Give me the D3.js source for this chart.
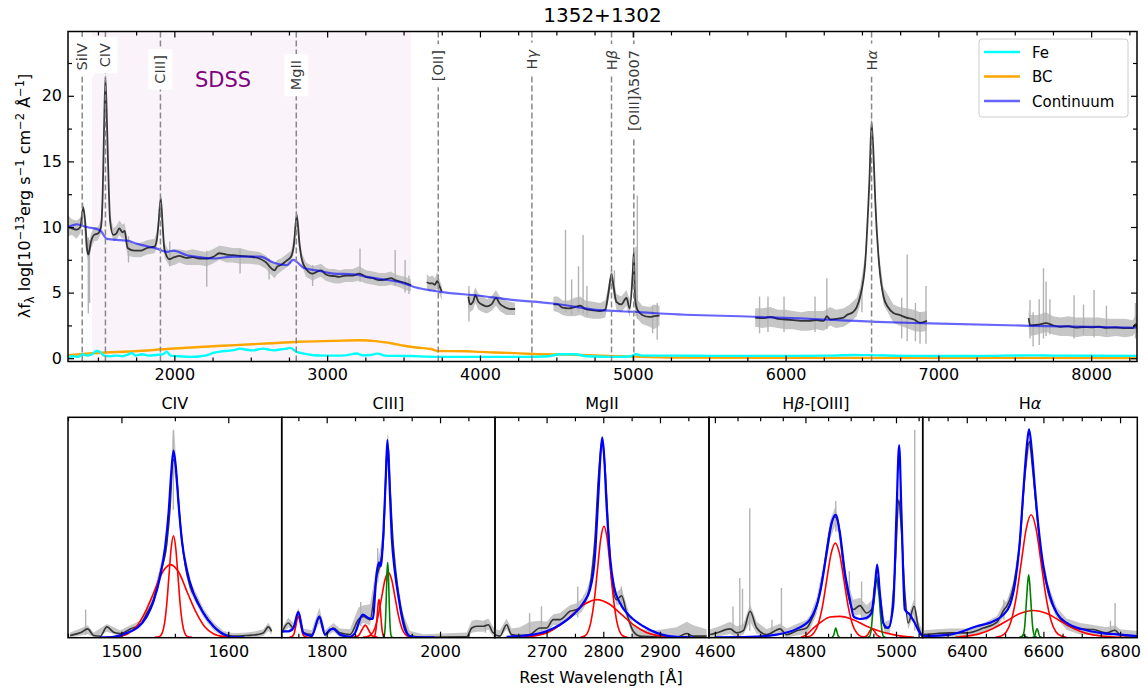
<!DOCTYPE html>
<html>
<head>
<meta charset="utf-8">
<script src="https://cdn.jsdelivr.net/npm/d3@7"></script>
<style>
  body { margin: 0; background: #fff; }
  svg text { font-family: "DejaVu Sans", sans-serif; }
</style>
</head>
<body>
<script>
// ---------------- top panel data (rest wavelength [A], flux) ----------------
const sdssRange = [1461, 3549];
const lineNames = ['SiIV', 'CIV', 'CIII]', 'MgII', '[OII]', 'Hγ', 'Hβ', '[OIII]λ5007', 'Hα'];
const lineWaves = [1397, 1549, 1909, 2798, 3727, 4340, 4861, 5007, 6563];
const xTicksTop = [2000, 3000, 4000, 5000, 6000, 7000, 8000];
const yTicksTop = [0, 5, 10, 15, 20];

// smoothed spectrum, one array per observed chunk
const blackSDSS = [[1304,10.0],[1330,9.9],[1360,9.8],[1385,10.0],[1404,11.5],[1418,10.2],[1428,8.4],[1437,7.9],[1455,8.9],[1475,9.4],[1500,9.5],[1520,10.0],[1531,12.5],[1540,17.5],[1549,21.4],[1560,17.5],[1572,12.5],[1580,10.4],[1600,9.4],[1620,9.5],[1640,9.9],[1660,9.6],[1675,9.7],[1694,8.4],[1737,8.2],[1780,8.2],[1820,8.4],[1870,8.5],[1885,9.0],[1896,10.2],[1911,12.2],[1924,10.0],[1935,8.3],[1968,7.55],[2000,7.7],[2033,7.8],[2077,7.65],[2120,7.7],[2164,7.6],[2210,7.6],[2251,7.7],[2295,8.0],[2340,7.9],[2382,7.85],[2430,7.8],[2491,7.75],[2556,7.6],[2600,7.3],[2630,6.9],[2655,6.7],[2675,7.0],[2698,7.1],[2731,7.4],[2764,7.75],[2782,8.6],[2801,10.9],[2820,8.6],[2835,7.5],[2862,6.8],[2905,6.45],[2935,6.6],[2960,6.7],[2990,6.4],[3014,6.3],[3050,6.25],[3080,6.2],[3120,6.3],[3167,6.3],[3210,6.45],[3254,6.2],[3300,6.1],[3341,5.95],[3380,6.0],[3418,6.1],[3445,5.95],[3472,5.85],[3510,5.75],[3549,5.57]];
const blackOII = [[3652,5.8],[3670,5.7],[3690,5.7],[3705,5.6],[3720,5.9],[3735,5.5],[3750,5.1]];
const blackHd = [[3924,4.7],[3935,4.1],[3955,4.3],[3970,4.8],[3990,4.3],[4020,4.05],[4045,3.95],[4075,4.1],[4105,4.6],[4130,4.15],[4170,3.85],[4200,3.75],[4230,3.75]];
const blackHb = [[4481,4.1],[4510,4.1],[4540,3.85],[4580,3.8],[4620,3.9],[4656,4.0],[4690,3.75],[4740,3.65],[4786,3.6],[4820,3.7],[4840,4.9],[4861,6.4],[4875,5.4],[4893,4.3],[4925,4.1],[4959,4.6],[4980,3.8],[5000,6.5],[5007,8.1],[5015,4.5],[5030,3.7],[5062,3.3],[5110,3.15],[5140,3.2],[5175,3.25]];
const blackHa = [[5801,3.1],[5850,3.05],[5900,3.15],[5950,3.0],[6000,2.95],[6050,2.9],[6100,2.85],[6150,2.85],[6200,2.9],[6250,2.85],[6270,3.2],[6292,2.95],[6330,3.0],[6380,3.1],[6401,3.3],[6440,3.5],[6466,3.9],[6488,4.7],[6521,7.2],[6543,12.0],[6549,13.6],[6563,18.0],[6582,13.6],[6587,12.0],[6612,7.2],[6641,4.7],[6670,3.9],[6706,3.45],[6745,3.3],[6790,3.1],[6840,2.95],[6880,2.7],[6925,2.85]];
const blackIR = [[7591,3.05],[7600,2.5],[7650,2.55],[7705,2.67],[7750,2.5],[7800,2.4],[7850,2.45],[7900,2.34],[7950,2.38],[8000,2.36],[8050,2.4],[8100,2.32],[8164,2.34],[8220,2.3],[8273,2.29],[8290,2.6],[8300,2.5]];

// raw spectrum noise envelope [wave, low, high]
const graySDSS = [[1304,9.3,10.9],[1330,9.4,10.6],[1360,9.1,10.5],[1385,9.5,10.7],[1404,10.8,11.9],[1420,8.3,10.2],[1437,7.3,8.6],[1455,8.4,9.5],[1475,8.9,10.0],[1500,9.0,10.0],[1520,9.5,10.6],[1531,11.9,13.2],[1540,16.9,18.3],[1549,20.7,22.2],[1560,16.9,18.2],[1572,11.9,13.1],[1580,10.0,11.0],[1600,8.9,9.9],[1620,9.0,10.1],[1640,9.4,10.5],[1660,9.1,10.2],[1675,9.1,10.3],[1694,7.8,9.0],[1737,7.7,8.7],[1780,7.7,8.8],[1820,7.9,9.0],[1870,8.0,9.1],[1885,8.4,9.6],[1896,9.7,10.8],[1911,11.6,12.8],[1924,9.4,10.6],[1935,7.7,8.8],[1968,7.0,8.1],[2000,7.1,8.3],[2033,7.3,8.3],[2077,7.1,8.2],[2120,7.1,8.3],[2164,7.1,8.2],[2210,7.0,8.1],[2251,7.2,8.3],[2295,7.5,8.6],[2340,7.3,8.5],[2382,7.3,8.4],[2430,7.2,8.4],[2491,7.2,8.2],[2556,7.1,8.1],[2600,6.8,7.8],[2630,6.4,7.4],[2655,6.1,7.2],[2675,6.4,7.5],[2698,6.6,7.6],[2731,6.9,7.9],[2764,7.2,8.2],[2782,8.1,9.2],[2801,10.3,11.5],[2820,8.1,9.1],[2835,7.0,8.0],[2862,6.2,7.3],[2905,5.9,7.0],[2935,6.1,7.1],[2960,6.2,7.2],[2990,5.9,6.9],[3014,5.8,6.8],[3050,5.7,6.8],[3080,5.7,6.7],[3120,5.8,6.8],[3167,5.8,6.8],[3210,5.9,7.0],[3254,5.7,6.7],[3300,5.6,6.6],[3341,5.5,6.5],[3380,5.5,6.5],[3418,5.6,6.6],[3445,5.5,6.4],[3472,5.4,6.3],[3510,5.2,6.2],[3549,5.1,6.0]];
const grayOII = [[3652,5.3,6.4],[3670,5.1,6.2],[3690,5.2,6.3],[3705,5.1,6.1],[3720,5.3,6.6],[3735,4.9,6.0],[3750,4.4,5.5]];
const grayHd = [[3924,4.0,5.3],[3935,3.5,4.9],[3955,3.7,4.9],[3970,4.2,5.4],[3990,3.7,4.9],[4020,3.5,4.7],[4045,3.4,4.5],[4075,3.6,4.7],[4105,4.0,5.2],[4130,3.6,4.7],[4170,3.3,4.4],[4200,3.3,4.3],[4230,3.3,4.2]];
const grayHb = [[4481,3.6,4.7],[4510,3.5,4.7],[4540,3.3,4.4],[4580,3.2,4.4],[4620,3.2,4.6],[4656,3.3,4.7],[4690,3.1,4.4],[4740,3.0,4.3],[4786,3.0,4.2],[4820,3.1,4.4],[4840,4.3,5.5],[4861,5.8,7.0],[4875,4.8,6.0],[4893,3.7,4.9],[4925,3.5,4.7],[4959,4.0,5.2],[4980,3.1,4.5],[5000,5.7,7.3],[5007,7.4,8.8],[5015,3.8,5.2],[5030,3.0,4.5],[5062,2.6,4.0],[5110,2.4,3.9],[5140,2.2,4.1],[5175,2.5,4.0]];
const grayHa = [[5801,2.4,3.8],[5850,2.3,3.8],[5900,2.4,3.9],[5950,2.3,3.7],[6000,2.2,3.7],[6050,2.2,3.6],[6100,2.1,3.5],[6150,2.1,3.6],[6200,2.2,3.6],[6250,2.1,3.6],[6292,2.5,3.9],[6330,2.3,3.7],[6380,2.4,3.8],[6420,2.7,4.1],[6466,3.2,4.6],[6488,4.1,5.4],[6521,6.6,7.9],[6543,11.4,12.7],[6549,13.1,14.3],[6563,17.4,18.8],[6582,13.1,14.3],[6587,11.4,12.7],[6612,6.6,7.9],[6641,4.1,5.4],[6706,2.7,4.1],[6745,2.5,3.9],[6790,2.3,3.8],[6840,2.1,3.7],[6880,2.0,3.5],[6925,2.1,3.6]];
const grayIR = [[7591,2.3,3.7],[7600,1.7,3.3],[7650,1.8,3.3],[7705,2.0,3.5],[7750,1.8,3.2],[7800,1.7,3.1],[7850,1.7,3.2],[7900,1.6,3.1],[7950,1.7,3.1],[8000,1.7,3.1],[8050,1.7,3.1],[8100,1.6,3.0],[8164,1.7,3.0],[8220,1.6,3.0],[8273,1.7,2.9],[8290,2.0,3.3],[8300,1.9,3.2]];
// single noisy pixels sticking out of the envelope [wave, low, high]
const spikesTop = [[1437,3.4,9.2],[1445,4.2,9.0],[1700,7.3,9.3],[1970,7.0,8.9],[2212,5.45,8.2],[2430,6.46,8.3],[2620,6.0,7.6],[2905,5.5,7.1],[3215,5.8,8.37],[3445,5.5,8.24],[3510,5.0,7.48],[3535,4.9,6.3],[3928,2.8,5.5],[4560,3.5,9.8],[4600,3.3,6.0],[4645,3.5,7.0],[4675,3.4,9.4],[4700,3.2,5.5],[4880,4.5,6.7],[5022,3.2,8.5],[5030,3.0,12.4],[5130,1.9,4.0],[5160,1.4,4.2],[5830,1.9,4.7],[5885,2.0,4.7],[5990,2.0,4.7],[6193,2.0,4.7],[6270,2.2,6.1],[6500,3.5,5.9],[6760,1.5,4.6],[6796,1.3,7.9],[6850,1.3,4.2],[6880,1.1,3.5],[6919,1.1,5.5],[7600,1.5,4.43],[7620,0.9,3.5],[7660,1.0,4.5],[7688,1.5,6.85],[7705,1.7,5.85],[7730,1.8,4.5],[7888,1.5,4.8],[7950,1.8,4.1],[8019,1.6,5.2],[8100,1.8,4.0],[8290,1.5,4.2]];

const continuum = [[1304,10.0],[1361,10.2],[1427,10.0],[1514,9.75],[1558,9.1],[1645,9.0],[1700,8.95],[1721,8.85],[1797,8.6],[1885,8.35],[1950,8.1],[1993,8.2],[2081,7.85],[2168,7.7],[2255,7.6],[2386,7.75],[2480,7.75],[2561,7.75],[2648,7.3],[2736,7.1],[2779,7.5],[2844,6.9],[2954,6.65],[3041,6.45],[3172,6.4],[3259,6.2],[3368,6.0],[3477,5.8],[3564,5.45],[3739,5.06],[4000,4.76],[4174,4.5],[4481,4.17],[4786,3.66],[5004,3.54],[5178,3.41],[5789,3.16],[6095,3.03],[6401,2.87],[6598,2.77],[6947,2.65],[7601,2.47],[8255,2.34],[8300,2.33]];
const balmerCont = [[1304,0.23],[1500,0.4],[1738,0.53],[1950,0.7],[2164,0.86],[2400,1.0],[2600,1.12],[2819,1.25],[3037,1.32],[3210,1.37],[3319,1.3],[3428,1.12],[3505,0.95],[3600,0.8],[3680,0.7],[3720,0.55],[3913,0.53],[4000,0.48],[4174,0.41],[4349,0.32],[4655,0.25],[4786,0.19],[5000,0.12],[5222,0.06],[6000,0.03],[8300,0.02]];
const feII = [[1304,0.1],[1340,0.15],[1370,0.1],[1400,0.3],[1425,0.2],[1455,0.25],[1492,0.56],[1514,0.48],[1540,0.2],[1580,0.15],[1620,0.2],[1660,0.15],[1700,0.3],[1721,0.4],[1745,0.2],[1790,0.3],[1830,0.2],[1880,0.25],[1925,0.3],[1950,0.5],[1975,0.2],[2030,0.15],[2100,0.1],[2170,0.15],[2230,0.3],[2255,0.41],[2300,0.5],[2342,0.56],[2390,0.62],[2430,0.73],[2470,0.65],[2517,0.6],[2550,0.68],[2582,0.73],[2620,0.65],[2648,0.6],[2700,0.68],[2736,0.73],[2757,0.79],[2801,0.48],[2844,0.36],[2910,0.23],[2980,0.2],[3050,0.2],[3120,0.22],[3194,0.36],[3230,0.22],[3280,0.25],[3330,0.35],[3380,0.2],[3450,0.18],[3550,0.17],[3650,0.12],[3800,0.1],[4000,0.1],[4300,0.1],[4450,0.15],[4520,0.3],[4620,0.3],[4700,0.15],[4900,0.1],[4990,0.15],[5020,0.3],[5060,0.2],[5200,0.2],[5600,0.18],[6000,0.18],[6300,0.2],[6450,0.25],[6600,0.22],[6800,0.18],[7200,0.17],[7650,0.22],[7750,0.2],[8300,0.18]];

// ---------------- line-fit panels (continuum subtracted, arbitrary units) ----------------
const panelTitles = ['CIV', 'CIII]', 'MgII', 'Hβ-[OIII]', 'Hα'];
const panelRanges = [[1450, 1650], [1720.6, 2097], [2609, 2986.5], [4587, 5059], [6285, 6845]];
const panelTicks = [[1500, 1600], [1800, 2000], [2700, 2800, 2900], [4600, 4800, 5000], [6400, 6600, 6800]];

const civGray = [[1452,0,0.22],[1461.5,0.08,0.4],[1468.4,0.15,0.55],[1474,0,0.22],[1486.4,0.25,0.6],[1498.9,0.05,0.32],[1508.3,0.22,0.55],[1517.6,0.42,0.75],[1523.8,0.85,1.3],[1530,1.45,1.95],[1536.3,2.65,3.25],[1542.5,3.95,4.65],[1545.6,5.55,6.5],[1548.1,7.6,9.3],[1549.4,7.5,9.43],[1551.9,6.6,7.5],[1555,4.8,5.5],[1559.6,3.05,3.55],[1564.3,2.05,2.55],[1570.6,1.45,1.95],[1576.8,0.9,1.3],[1586.1,0.32,0.68],[1595.5,0,0.28],[1604.8,0,0.18],[1617.3,0,0.22],[1626.6,0,0.28],[1632.9,0.06,0.36],[1637.5,0.28,0.66],[1640.6,0.12,0.42]];
const civSpikes = [[1466.5,0.1,1.26],[1548.6,5.8,9.43]];
const civBlack = [[1452,0.08],[1455.3,0.12],[1461.5,0.2],[1468.4,0.38],[1474,0.08],[1480.2,0.05],[1486.4,0.47],[1492.7,0.23],[1498.9,0.17],[1508.3,0.38],[1517.6,0.57],[1523.8,1.1],[1530,1.71],[1536.3,2.92],[1542.5,4.28],[1545.6,5.95],[1548.1,8.06],[1549.4,8.06],[1551.9,7.16],[1555,5.19],[1559.6,3.3],[1564.3,2.31],[1570.6,1.71],[1576.8,1.1],[1586.1,0.5],[1595.5,0.12],[1604.8,0.05],[1617.3,0.08],[1626.6,0.12],[1632.9,0.2],[1637.5,0.47],[1640.6,0.27]];
const civBroad = [[1486,0],[1496,0.03],[1506,0.16],[1514,0.48],[1522,1.12],[1530,2.0],[1538,2.92],[1546,3.3],[1554,2.92],[1562,2.0],[1570,1.12],[1578,0.48],[1586,0.16],[1596,0.03],[1606,0]];
const civNarrow = [[1531,0],[1535.7,0.04],[1538.2,0.2],[1540.3,0.62],[1542.4,1.49],[1544.5,2.8],[1546.6,4.07],[1548.7,4.61],[1550.8,4.07],[1552.9,2.8],[1555,1.49],[1557.1,0.62],[1559.2,0.2],[1561.7,0.04],[1566,0]];
const civTotal = [[1480,0],[1489.6,0],[1505.1,0.2],[1514.5,0.42],[1523.8,0.95],[1530,1.63],[1536.3,2.77],[1541,4.13],[1544.1,5.64],[1546.6,7.46],[1548.7,8.49],[1550.9,7.76],[1553.4,6.1],[1556.5,4.43],[1561.2,3.07],[1567.4,2.01],[1576.8,1.1],[1586.1,0.5],[1598.6,0.08],[1604.8,0],[1615,0]];

const ciiiGray = [[1720.6,0.08,0.42],[1732.4,0.45,0.9],[1741.2,0.25,0.65],[1750,0.85,1.35],[1758.8,0,0.4],[1773.5,0,0.32],[1787.1,0.65,1.35],[1797.1,0,0.32],[1811.8,0.25,0.65],[1823.5,0,0.4],[1841.2,0,0.36],[1855.9,0.55,1.35],[1864.7,0.65,1.45],[1876.5,0.55,1.5],[1888.2,2.35,3.3],[1894.1,2.95,3.95],[1900,4.05,4.9],[1905.9,7.7,8.7],[1907.1,8.1,9.27],[1908.8,8.3,9.1],[1911.8,6.4,7.3],[1917.6,3.75,4.5],[1926.5,1.75,2.35],[1935.3,0.55,1.05],[1947.1,0,0.28],[1970.6,0,0.14],[2047.1,0,0.22],[2055.9,0.2,0.75],[2064.7,0.25,0.8],[2076.5,0.25,0.75],[2085.3,0.35,0.85],[2094.1,0.02,0.45],[2097,0.02,0.45]];
const ciiiSpikes = [[1890,2.5,4.05],[1860,0.5,1.6],[2080,0.2,0.75]];
const ciiiBlack = [[1720.6,0.2],[1732.4,0.65],[1741.2,0.42],[1750,1.1],[1758.8,0.2],[1773.5,0.12],[1787.1,0.88],[1797.1,0.12],[1811.8,0.42],[1823.5,0.2],[1841.2,0.12],[1855.9,0.8],[1864.7,0.95],[1876.5,0.8],[1888.2,2.77],[1894.1,3.3],[1900,4.43],[1905.9,8.21],[1908.8,8.67],[1911.8,6.85],[1917.6,4.13],[1926.5,2.01],[1935.3,0.8],[1947.1,0.05],[1970.6,0],[2047.1,0.02],[2055.9,0.42],[2064.7,0.5],[2076.5,0.5],[2085.3,0.57],[2094.1,0.2],[2097,0.2]];
const ciiiRed1 = [[1734,0],[1738,0.02],[1742,0.13],[1746,0.58],[1748,0.84],[1750,0.95],[1752,0.84],[1754,0.58],[1758,0.13],[1762,0.02],[1766,0]];
const ciiiRed2 = [[1846,0],[1850,0.02],[1856,0.07],[1862,0.33],[1868,0.55],[1874,0.33],[1880,0.07],[1886,0.02],[1890,0]];
const ciiiRed3 = [[1881,0],[1884.3,0.05],[1886.3,0.23],[1887.8,0.56],[1889.3,1.04],[1890.8,1.51],[1892.3,1.71],[1893.8,1.51],[1895.3,1.04],[1896.8,0.56],[1898.3,0.23],[1900.3,0.05],[1903,0]];
const ciiiBroad = [[1864,0],[1870.8,0.02],[1878.8,0.13],[1884.8,0.4],[1890.8,0.96],[1896.8,1.79],[1902.8,2.6],[1908.8,2.95],[1914.8,2.6],[1920.8,1.79],[1926.8,0.96],[1932.8,0.4],[1938.8,0.13],[1946.8,0.02],[1954,0]];
const ciiiGreen = [[1899,0],[1901,0.03],[1903.2,0.46],[1904.3,1.1],[1905.4,2.06],[1906.5,3.0],[1907.6,3.4],[1908.7,3.0],[1909.8,2.06],[1910.9,1.1],[1912,0.46],[1914.2,0.03],[1916,0]];
const ciiiTotal = [[1720.6,0.27],[1732.4,0.27],[1741.2,0.42],[1750,1.15],[1758.8,0.2],[1773.5,0.05],[1787.1,0.95],[1797.1,0.12],[1805.9,0.35],[1811.8,0.38],[1823.5,0.12],[1841.2,0.02],[1850,0.2],[1863.5,1.03],[1873.5,0.88],[1881.2,0.83],[1888.2,2.92],[1892.3,3.4],[1895.3,3.22],[1900,4.73],[1904.1,7.16],[1907.1,8.97],[1910.6,7.16],[1914.7,4.58],[1920.6,2.92],[1926.5,1.86],[1932.4,0.95],[1938.2,0.35],[1947.1,0.05],[1958.8,0],[1990,0]];

const mgiiGray = [[2608.8,0,0.36],[2617.6,0,0.32],[2629.4,0.35,0.85],[2638.2,0,0.4],[2652.9,0,0.45],[2670.6,0,0.7],[2688.2,0.15,0.75],[2700,0.2,0.7],[2711.8,0.55,1.05],[2723.5,0.55,1.1],[2741.2,0.95,1.45],[2752.9,1.0,1.55],[2761.8,1.15,1.75],[2770.6,1.55,2.15],[2776.5,2.05,2.65],[2785.3,4.15,4.75],[2791.2,6.85,7.55],[2798.2,8.65,9.2],[2802.9,7.45,8.15],[2808.8,4.75,5.35],[2814.7,2.35,2.95],[2823.5,1.45,2.05],[2832.4,1.55,2.25],[2841.2,0.85,1.45],[2852.9,0,0.55],[2864.7,0,0.36],[2894.1,0,0.32],[2929.4,0,0.45],[2947.1,0,0.7],[2958.8,0,0.55],[2982.4,0,0.36]];
const mgiiSpikes = [[2755,0.9,2.31],[2691,0.1,1.41],[2670,0,1.1],[2832,1.4,2.31]];
const mgiiBlack = [[2608.8,0.12],[2617.6,0.05],[2629.4,0.57],[2638.2,0.12],[2652.9,0.08],[2670.6,0.12],[2688.2,0.42],[2700,0.42],[2711.8,0.8],[2723.5,0.8],[2741.2,1.18],[2752.9,1.26],[2761.8,1.41],[2770.6,1.79],[2776.5,2.31],[2785.3,4.43],[2791.2,7.16],[2798.2,8.97],[2802.9,7.76],[2808.8,5.04],[2814.7,2.62],[2823.5,1.71],[2832.4,1.89],[2841.2,1.1],[2852.9,0.27],[2864.7,0.05],[2894.1,0.02],[2929.4,0],[2947.1,0.17],[2958.8,0.05],[2982.4,0.05]];
const mgiiBroad = [[2630,0],[2654,0.01],[2681.5,0.075],[2703,0.23],[2724.5,0.56],[2746,1.04],[2767.5,1.51],[2789,1.71],[2810.5,1.51],[2832,1.04],[2853.5,0.56],[2875,0.23],[2896.5,0.075],[2924,0.01],[2950,0]];
const mgiiNarrow = [[2760,0],[2768,0.07],[2778,0.68],[2784,1.64],[2789.7,3.06],[2795.4,4.45],[2801.2,5.04],[2807,4.45],[2812.7,3.06],[2818.5,1.64],[2824.2,0.68],[2834.2,0.07],[2842,0]];
const mgiiTotal = [[2629.4,0.02],[2647.1,0.05],[2676.5,0.12],[2700,0.27],[2723.5,0.57],[2747.1,1.03],[2764.7,1.56],[2776.5,2.16],[2785.3,3.68],[2791.2,6.4],[2795.3,8.37],[2798.2,9.09],[2801.2,8.37],[2805.9,5.95],[2811.8,3.68],[2818.8,2.31],[2829.4,1.56],[2847.1,0.95],[2870.6,0.5],[2894.1,0.2],[2929.4,0.02],[2960,0]];

const hbGray = [[4589.5,0,0.36],[4604.2,0.02,0.45],[4633.6,0.15,0.7],[4648.3,0,0.5],[4663,0.12,0.6],[4677.7,0.7,1.5],[4692.4,0.15,0.7],[4714.5,0,0.36],[4743.9,0.12,0.62],[4758.6,0,0.4],[4780.6,0.08,0.6],[4802.7,0.15,0.8],[4810,0.35,1.0],[4824.7,1.05,1.8],[4839.4,2.55,3.3],[4854.1,4.45,5.3],[4865.1,5.05,5.9],[4872.5,4.75,5.5],[4883.5,2.95,3.8],[4890.9,1.95,2.7],[4905.6,0.95,1.7],[4920.3,1.05,1.8],[4935,0.75,1.45],[4949.7,1.05,1.75],[4957,2.25,2.95],[4964.4,1.55,2.25],[4975.4,0.12,0.7],[4986.4,0.15,0.8],[4997.4,2.55,3.3],[5006.3,5.85,6.7],[5012.1,4.45,5.2],[5019.5,1.65,2.35],[5026.8,0.35,0.95],[5040.1,1.05,1.75],[5048.9,0.15,0.8],[5058.5,0,0.28]];
const hbSpikes = [[4640,0.1,1.4],[4655,0.2,2.69],[4661,0.2,2.2],[4677,0.3,5.87],[4726,0.1,0.8],[4747,0.1,2.24],[4867,4.8,6.2],[4897,1.5,3.0],[4924,0.9,2.54],[5041.5,0.3,9.43]];
const hbBlack = [[4589.5,0.12],[4604.2,0.2],[4633.6,0.38],[4648.3,0.2],[4663,0.3],[4677.7,1.18],[4692.4,0.42],[4714.5,0.12],[4743.9,0.38],[4758.6,0.12],[4780.6,0.3],[4802.7,0.42],[4810,0.65],[4824.7,1.41],[4839.4,2.92],[4854.1,4.88],[4865.1,5.48],[4872.5,5.19],[4883.5,3.37],[4890.9,2.31],[4905.6,1.26],[4920.3,1.44],[4935,1.1],[4949.7,1.41],[4957,2.62],[4964.4,1.86],[4975.4,0.42],[4986.4,0.5],[4997.4,2.92],[5006.3,6.25],[5012.1,4.88],[5019.5,2.01],[5026.8,0.65],[5040.1,1.41],[5048.9,0.5],[5058.5,0.05]];
const hbBroad = [[4798,0],[4808,0.03],[4818.5,0.19],[4828,0.58],[4837.5,1.39],[4847,2.6],[4856.5,3.78],[4866,4.28],[4875.5,3.78],[4885,2.6],[4894.5,1.39],[4904,0.58],[4913.5,0.19],[4924,0.03],[4934,0]];
const hbVeryBroad = [[4790,0],[4802.7,0.12],[4817,0.4],[4832,0.65],[4854,0.92],[4876,0.95],[4905.6,0.8],[4935,0.5],[4964.4,0.27],[4993.8,0.12],[5022,0.03],[5040,0]];
const hbWing = [[4930,0],[4937,0.1],[4942,0.28],[4947,0.38],[4952,0.28],[4958,0.1],[4966,0]];
const hbNarrow = [[4859,0],[4862.5,0.1],[4865,0.3],[4867,0.42],[4869,0.3],[4871.5,0.1],[4875,0]];
const oiii4959 = [[4937,0],[4941,0.02],[4945,0.3],[4948.5,1.1],[4952.5,2.2],[4957,2.77],[4961.5,2.2],[4965.5,1.1],[4969,0.3],[4973,0.02],[4977,0]];
const hbTotal = [[4600,0],[4677.7,0.02],[4736.5,0.12],[4780.6,0.38],[4810,0.8],[4832.1,2.01],[4846.8,3.83],[4857.8,5.19],[4866.6,5.57],[4876.2,4.73],[4887.2,2.92],[4898.2,1.71],[4907,0.92],[4920.3,0.83],[4935,0.88],[4946,1.1],[4953.3,2.31],[4958.5,3.3],[4964.4,2.01],[4971.7,0.65],[4982.7,0.42],[4993.8,1.41],[5001.1,5.64],[5007,8.74],[5012.1,5.64],[5019.5,1.26],[5030.5,1.03],[5041.5,0.65],[5052.6,0.2],[5058.5,0.05]];

const haGray = [[6287,0,0.32],[6321.7,0,0.36],[6356.5,0.02,0.4],[6400,0.02,0.4],[6443.5,0.2,0.65],[6478.3,0.45,0.95],[6497.4,0.95,1.6],[6504.3,1.15,1.65],[6521.7,2.05,2.55],[6539.1,4.15,4.75],[6552.2,7.15,7.75],[6563.5,8.65,9.15],[6571.3,7.45,8.05],[6582.6,5.35,5.95],[6595.7,3.25,3.85],[6613,1.75,2.35],[6634.8,0.85,1.35],[6660.9,0.33,0.85],[6695.7,0.13,0.65],[6730.4,0.12,0.56],[6765.2,0,0.45],[6787,0.12,0.55],[6800,0,0.36],[6845,0,0.28]];
const haSpikes = [[6497,0.8,1.71],[6775,0.1,0.75],[6787,0.1,1.56]];
const haBlack = [[6287,0.12],[6321.7,0.17],[6356.5,0.2],[6400,0.2],[6443.5,0.42],[6478.3,0.68],[6497.4,1.26],[6504.3,1.41],[6521.7,2.31],[6539.1,4.43],[6552.2,7.46],[6563.5,8.9],[6571.3,7.76],[6582.6,5.64],[6595.7,3.53],[6613,2.01],[6634.8,1.1],[6660.9,0.57],[6695.7,0.38],[6730.4,0.35],[6765.2,0.2],[6787,0.32],[6800,0.12],[6845,0.05]];
const haBroad = [[6475,0],[6488,0.05],[6503,0.24],[6516,0.75],[6529,1.81],[6542,3.38],[6555,4.92],[6568,5.57],[6581,4.92],[6594,3.38],[6607,1.81],[6620,0.75],[6633,0.24],[6648,0.05],[6660,0]];
const haVeryBroad = [[6370,0],[6399,0.05],[6434,0.165],[6469,0.4],[6504,0.74],[6539,1.08],[6574,1.22],[6609,1.08],[6644,0.74],[6679,0.4],[6714,0.165],[6749,0.054],[6790,0.01],[6820,0]];
const haNarrow = [[6540,0],[6545,0.03],[6550.5,0.38],[6556,1.72],[6558.8,2.45],[6561.5,2.84],[6564.3,2.45],[6567,1.72],[6572.5,0.38],[6578,0.03],[6583,0]];
const nii6548 = [[6537,0],[6541,0.01],[6545,0.06],[6548,0.12],[6551,0.06],[6555,0.01],[6559,0]];
const nii6583 = [[6571,0],[6575,0.01],[6578.5,0.12],[6581,0.3],[6583.5,0.38],[6586,0.3],[6588.5,0.12],[6592,0.01],[6596,0]];
const haTotal = [[6287,0.05],[6356.5,0.12],[6426.1,0.5],[6469.6,0.73],[6495.7,1.03],[6513,1.48],[6526.1,2.47],[6537.4,4.13],[6547.8,6.7],[6556.5,8.67],[6562.6,9.46],[6569.6,8.52],[6578.3,6.7],[6587,5.04],[6600,3.22],[6617.4,1.86],[6634.8,1.1],[6660.9,0.65],[6704.3,0.35],[6747.8,0.2],[6800,0.12],[6845,0.05]];

// ---------------- drawing ----------------
const W = 1148, H = 691;
const FONT = '"DejaVu Sans", sans-serif';
const GRAY = '#c6c6c6';
const SPIKE = '#b3b3b3';

const svg = d3.select('body').append('svg').attr('width', W).attr('height', H);
svg.append('rect').attr('width', W).attr('height', H).attr('fill', '#fff');
const defs = svg.append('defs');

function clipFor(id, x0, y0, x1, y1) {
  defs.append('clipPath').attr('id', id).append('rect')
    .attr('x', x0).attr('y', y0).attr('width', x1 - x0).attr('height', y1 - y0);
  return `url(#${id})`;
}

const bandGen = (xs, ys) => d3.area().x(d => xs(d[0])).y0(d => ys(d[1])).y1(d => ys(d[2]));
const lineGen = (xs, ys) => d3.line().x(d => xs(d[0])).y(d => ys(d[1])).curve(d3.curveMonotoneX);

// text with italic greek letters (mathtext style)
function richText(t, str) {
  str.split(/([αβγ])/).filter(s => s.length).forEach(s => {
    const sp = t.append('tspan').text(s);
    if (/[αβγ]/.test(s)) sp.attr('font-style', 'italic');
  });
}

// inward ticks, no domain line
function ticks(g, gen, scale, values, size, labels, pad, fs) {
  const a = gen(scale).tickValues(values).tickSize(-size).tickPadding(pad)
    .tickFormat(labels ? d3.format('d') : () => '');
  g.call(a).attr('font-family', FONT).attr('font-size', fs);
  g.select('.domain').remove();
  g.selectAll('.tick line').attr('stroke', '#000').attr('stroke-width', 1.2);
  g.selectAll('.tick text').attr('fill', '#000');
}

// ===== top panel =====
const T = { l: 68, r: 1137, t: 31.5, b: 361.5 };
const x = d3.scaleLinear().domain([1304, 8300]).range([T.l, T.r]);
const y = d3.scaleLinear().domain([-0.25, 24.9]).range([T.b, T.t]);
const plot = svg.append('g').attr('clip-path', clipFor('clipTop', T.l, T.t, T.r, T.b));

plot.append('rect')
  .attr('x', x(sdssRange[0])).attr('y', T.t)
  .attr('width', x(sdssRange[1]) - x(sdssRange[0])).attr('height', T.b - T.t)
  .attr('fill', 'purple').attr('fill-opacity', 0.045);

[graySDSS, grayOII, grayHd, grayHb, grayHa, grayIR].forEach(seg => {
  plot.append('path').attr('d', bandGen(x, y)(seg)).attr('fill', GRAY);
});
plot.selectAll('line.spk').data(spikesTop).join('line').attr('class', 'spk')
  .attr('x1', d => x(d[0])).attr('x2', d => x(d[0]))
  .attr('y1', d => y(d[1])).attr('y2', d => y(d[2]))
  .attr('stroke', SPIKE).attr('stroke-width', 1.4);

[blackSDSS, blackOII, blackHd, blackHb, blackHa, blackIR].forEach(seg => {
  plot.append('path').attr('d', lineGen(x, y)(seg)).attr('fill', 'none')
    .attr('stroke', '#1a1a1a').attr('stroke-opacity', 0.85).attr('stroke-width', 1.8);
});
plot.append('path').attr('d', lineGen(x, y)(balmerCont)).attr('fill', 'none')
  .attr('stroke', '#ffa500').attr('stroke-width', 2.4);
plot.append('path').attr('d', lineGen(x, y)(feII)).attr('fill', 'none')
  .attr('stroke', '#00ffff').attr('stroke-width', 2.4);
plot.append('path').attr('d', lineGen(x, y)(continuum)).attr('fill', 'none')
  .attr('stroke', 'blue').attr('stroke-opacity', 0.6).attr('stroke-width', 2.2);

// line markers
plot.selectAll('line.mark').data(lineWaves).join('line').attr('class', 'mark')
  .attr('x1', d => x(d)).attr('x2', d => x(d)).attr('y1', T.t).attr('y2', T.b)
  .attr('stroke', '#888').attr('stroke-width', 1.5).attr('stroke-dasharray', '6,3');

const labelTop = [43, 43, 55, 60, 50, 50, 50, 50, 50];
lineWaves.forEach((w, i) => {
  const g = plot.append('g').attr('transform', `translate(${x(w)},${labelTop[i]}) rotate(-90)`);
  const t = g.append('text').attr('text-anchor', 'end').attr('dominant-baseline', 'central')
    .attr('font-size', 14.5).attr('fill', '#3a3a3a');
  richText(t, lineNames[i]);
  const bb = t.node().getBBox();
  g.insert('rect', 'text').attr('x', bb.x - 6).attr('y', bb.y - 4)
    .attr('width', bb.width + 12).attr('height', bb.height + 8).attr('fill', '#fff');
});

svg.append('text').attr('x', 223).attr('y', 87).attr('text-anchor', 'middle')
  .attr('font-size', 21).attr('fill', 'purple').text('SDSS');

// legend
const legNames = ['Fe', 'BC', 'Continuum'];
const legColors = ['#00ffff', '#ffa500', '#6666ff'];
const leg = svg.append('g');
leg.append('rect').attr('x', 979).attr('y', 39).attr('width', 149).attr('height', 78).attr('rx', 3)
  .attr('fill', '#fff').attr('fill-opacity', 0.85).attr('stroke', '#ccc');
legNames.forEach((n, i) => {
  const yy = 52 + i * 24.5;
  leg.append('line').attr('x1', 984).attr('x2', 1020).attr('y1', yy).attr('y2', yy)
    .attr('stroke', legColors[i]).attr('stroke-width', 2.5);
  leg.append('text').attr('x', 1032).attr('y', yy + 5.5).attr('font-size', 15).text(n);
});

// axes
const minorX = d3.range(1500, 8300, 250).filter(v => v % 1000);
const minorY = [2.5, 7.5, 12.5, 17.5, 22.5];
ticks(svg.append('g').attr('transform', `translate(0,${T.b})`), d3.axisBottom, x, xTicksTop, 6, true, 7.5, 16);
ticks(svg.append('g').attr('transform', `translate(0,${T.b})`), d3.axisBottom, x, minorX, 4, false, 0, 16);
ticks(svg.append('g').attr('transform', `translate(0,${T.t})`), d3.axisTop, x, xTicksTop, 6, false, 0, 16);
ticks(svg.append('g').attr('transform', `translate(0,${T.t})`), d3.axisTop, x, minorX, 4, false, 0, 16);
ticks(svg.append('g').attr('transform', `translate(${T.l},0)`), d3.axisLeft, y, yTicksTop, 6, true, 6, 16);
ticks(svg.append('g').attr('transform', `translate(${T.l},0)`), d3.axisLeft, y, minorY, 4, false, 0, 16);
ticks(svg.append('g').attr('transform', `translate(${T.r},0)`), d3.axisRight, y, yTicksTop, 6, false, 0, 16);
ticks(svg.append('g').attr('transform', `translate(${T.r},0)`), d3.axisRight, y, minorY, 4, false, 0, 16);
svg.append('rect').attr('x', T.l).attr('y', T.t).attr('width', T.r - T.l).attr('height', T.b - T.t)
  .attr('fill', 'none').attr('stroke', '#000').attr('stroke-width', 1.5);

svg.append('text').attr('x', (T.l + T.r) / 2).attr('y', 22).attr('text-anchor', 'middle')
  .attr('font-size', 20).text('1352+1302');

// y label with sub/superscripts
const yl = svg.append('text').attr('transform', 'translate(30,196) rotate(-90)')
  .attr('text-anchor', 'middle').attr('font-size', 16);
const ylParts = [['λf', 0], ['λ', -1], [' log[10', 0], ['−13', 1], ['erg s', 0], ['−1', 1],
  [' cm', 0], ['−2', 1], [' Å', 0], ['−1', 1], [']', 0]];
let shift = 0;
ylParts.forEach(([s, k]) => {
  const target = k === 1 ? -6.5 : k === -1 ? 4 : 0;
  yl.append('tspan').attr('dy', target - shift).attr('font-size', k ? 11.5 : 16).text(s);
  shift = target;
});

// ===== line-fit panels =====
const edges = [68, 281.7, 495, 709, 922.7, 1137.3];
const P = { t: 417.3, b: 637.7 };
const panelData = [
  { gray: civGray, spikes: civSpikes, black: civBlack, red: [civBroad, civNarrow], green: [], total: civTotal },
  { gray: ciiiGray, spikes: ciiiSpikes, black: ciiiBlack, red: [ciiiRed1, ciiiRed2, ciiiRed3, ciiiBroad], green: [ciiiGreen], total: ciiiTotal },
  { gray: mgiiGray, spikes: mgiiSpikes, black: mgiiBlack, red: [mgiiBroad, mgiiNarrow], green: [], total: mgiiTotal },
  { gray: hbGray, spikes: hbSpikes, black: hbBlack, red: [hbBroad, hbVeryBroad, hbWing], green: [hbNarrow, oiii4959], total: hbTotal },
  { gray: haGray, spikes: haSpikes, black: haBlack, red: [haBroad, haVeryBroad], green: [haNarrow, nii6548, nii6583], total: haTotal }
];

panelData.forEach((p, i) => {
  const x0 = edges[i], x1 = edges[i + 1];
  const xs = d3.scaleLinear().domain(panelRanges[i]).range([x0, x1]);
  const ys = d3.scaleLinear().domain([-0.02, 10]).range([P.b, P.t]);
  const g = svg.append('g').attr('clip-path', clipFor('clipP' + i, x0, P.t, x1, P.b));

  g.append('path').attr('d', bandGen(xs, ys)(p.gray)).attr('fill', GRAY);
  g.selectAll('line.spk').data(p.spikes).join('line').attr('class', 'spk')
    .attr('x1', d => xs(d[0])).attr('x2', d => xs(d[0]))
    .attr('y1', d => ys(d[1])).attr('y2', d => ys(d[2]))
    .attr('stroke', SPIKE).attr('stroke-width', 1.4);
  g.append('path').attr('d', lineGen(xs, ys)(p.black)).attr('fill', 'none')
    .attr('stroke', '#1a1a1a').attr('stroke-opacity', 0.85).attr('stroke-width', 1.6);
  p.red.forEach(c => g.append('path').attr('d', lineGen(xs, ys)(c)).attr('fill', 'none')
    .attr('stroke', 'red').attr('stroke-width', 1.6));
  p.green.forEach(c => g.append('path').attr('d', lineGen(xs, ys)(c)).attr('fill', 'none')
    .attr('stroke', 'green').attr('stroke-width', 1.6));
  g.append('path').attr('d', lineGen(xs, ys)(p.total)).attr('fill', 'none')
    .attr('stroke', 'blue').attr('stroke-width', 2.2);

  const lo = Math.ceil(panelRanges[i][0] / 50) * 50;
  const minor = d3.range(lo, panelRanges[i][1], 50).filter(v => !panelTicks[i].includes(v));
  ticks(svg.append('g').attr('transform', `translate(0,${P.b})`), d3.axisBottom, xs, panelTicks[i], 6, true, 8.2, 16);
  ticks(svg.append('g').attr('transform', `translate(0,${P.b})`), d3.axisBottom, xs, minor, 4, false, 0, 16);
  ticks(svg.append('g').attr('transform', `translate(0,${P.t})`), d3.axisTop, xs, panelTicks[i], 6, false, 0, 16);
  ticks(svg.append('g').attr('transform', `translate(0,${P.t})`), d3.axisTop, xs, minor, 4, false, 0, 16);

  svg.append('rect').attr('x', x0).attr('y', P.t).attr('width', x1 - x0).attr('height', P.b - P.t)
    .attr('fill', 'none').attr('stroke', '#000').attr('stroke-width', 1.5);

  const tt = svg.append('text').attr('x', (x0 + x1) / 2).attr('y', 408.5)
    .attr('text-anchor', 'middle').attr('font-size', 16);
  richText(tt, panelTitles[i]);
});

svg.append('text').attr('x', 601).attr('y', 682.5).attr('text-anchor', 'middle')
  .attr('font-size', 16).text('Rest Wavelength [Å]');
</script>
</body>
</html>
